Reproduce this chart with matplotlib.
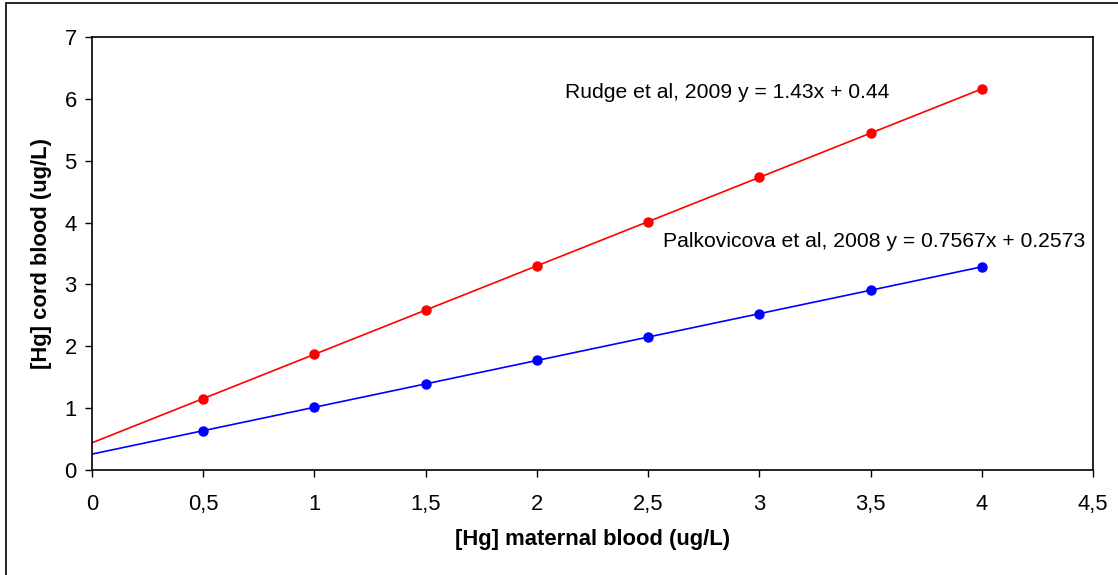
import matplotlib.pyplot as plt
from matplotlib.patches import Rectangle
from matplotlib.ticker import FuncFormatter

# values
x_points = [0.5, 1.0, 1.5, 2.0, 2.5, 3.0, 3.5, 4.0]
rudge_y = [1.155, 1.87, 2.585, 3.30, 4.015, 4.73, 5.445, 6.16]
palk_y = [0.636, 1.014, 1.393, 1.771, 2.149, 2.527, 2.906, 3.284]

# trend line end points (x = 0 and x = 4)
trend_x = [0.0, 4.0]
rudge_trend = [0.44, 6.16]
palk_trend = [0.2573, 3.284]

rudge_label = "Rudge et al, 2009 y = 1.43x + 0.44"
palk_label = "Palkovicova et al, 2008 y = 0.7567x + 0.2573"

plt.rcParams['font.family'] = ['Liberation Sans', 'DejaVu Sans']

fig = plt.figure(figsize=(11.18, 5.75), dpi=100)
ax = fig.add_axes([0.0823, 0.1826, 0.8953, 0.7531])

# outer frame of the chart
fig.patches.append(Rectangle((6 / 1118, -0.1), 1.2, 1.1 - 3 / 575,
                             transform=fig.transFigure, fill=False,
                             edgecolor='black', linewidth=1.2))

ax.plot(trend_x, rudge_trend, color='#ff0000', linewidth=1.2)
ax.plot(trend_x, palk_trend, color='#0000ff', linewidth=1.2)
ax.plot(x_points, rudge_y, 'o', color='#ff0000', markersize=6.5)
ax.plot(x_points, palk_y, 'o', color='#0000ff', markersize=6.5)

ax.text(2.126, 6.095, rudge_label, fontsize=15.2, ha='left', va='center')
ax.text(2.567, 3.70, palk_label, fontsize=15.2, ha='left', va='center')

ax.set_xlim(0, 4.5)
ax.set_ylim(0, 7)
ax.set_xticks([0, 0.5, 1, 1.5, 2, 2.5, 3, 3.5, 4, 4.5])
ax.set_yticks(range(8))
ax.xaxis.set_major_formatter(FuncFormatter(lambda v, p: f"{v:g}".replace('.', ',')))

ax.tick_params(direction='out', length=5, width=1, labelsize=15.8, pad=6)
ax.tick_params(axis='x', pad=12)
for s in ax.spines.values():
    s.set_linewidth(1.2)

ax.set_xlabel('[Hg] maternal blood (ug/L)', fontsize=15.8, fontweight='bold', labelpad=10)
ax.set_ylabel('[Hg] cord blood (ug/L)', fontsize=15.8, fontweight='bold', labelpad=9)

plt.savefig('out.png', dpi=100)
plt.close(fig)
